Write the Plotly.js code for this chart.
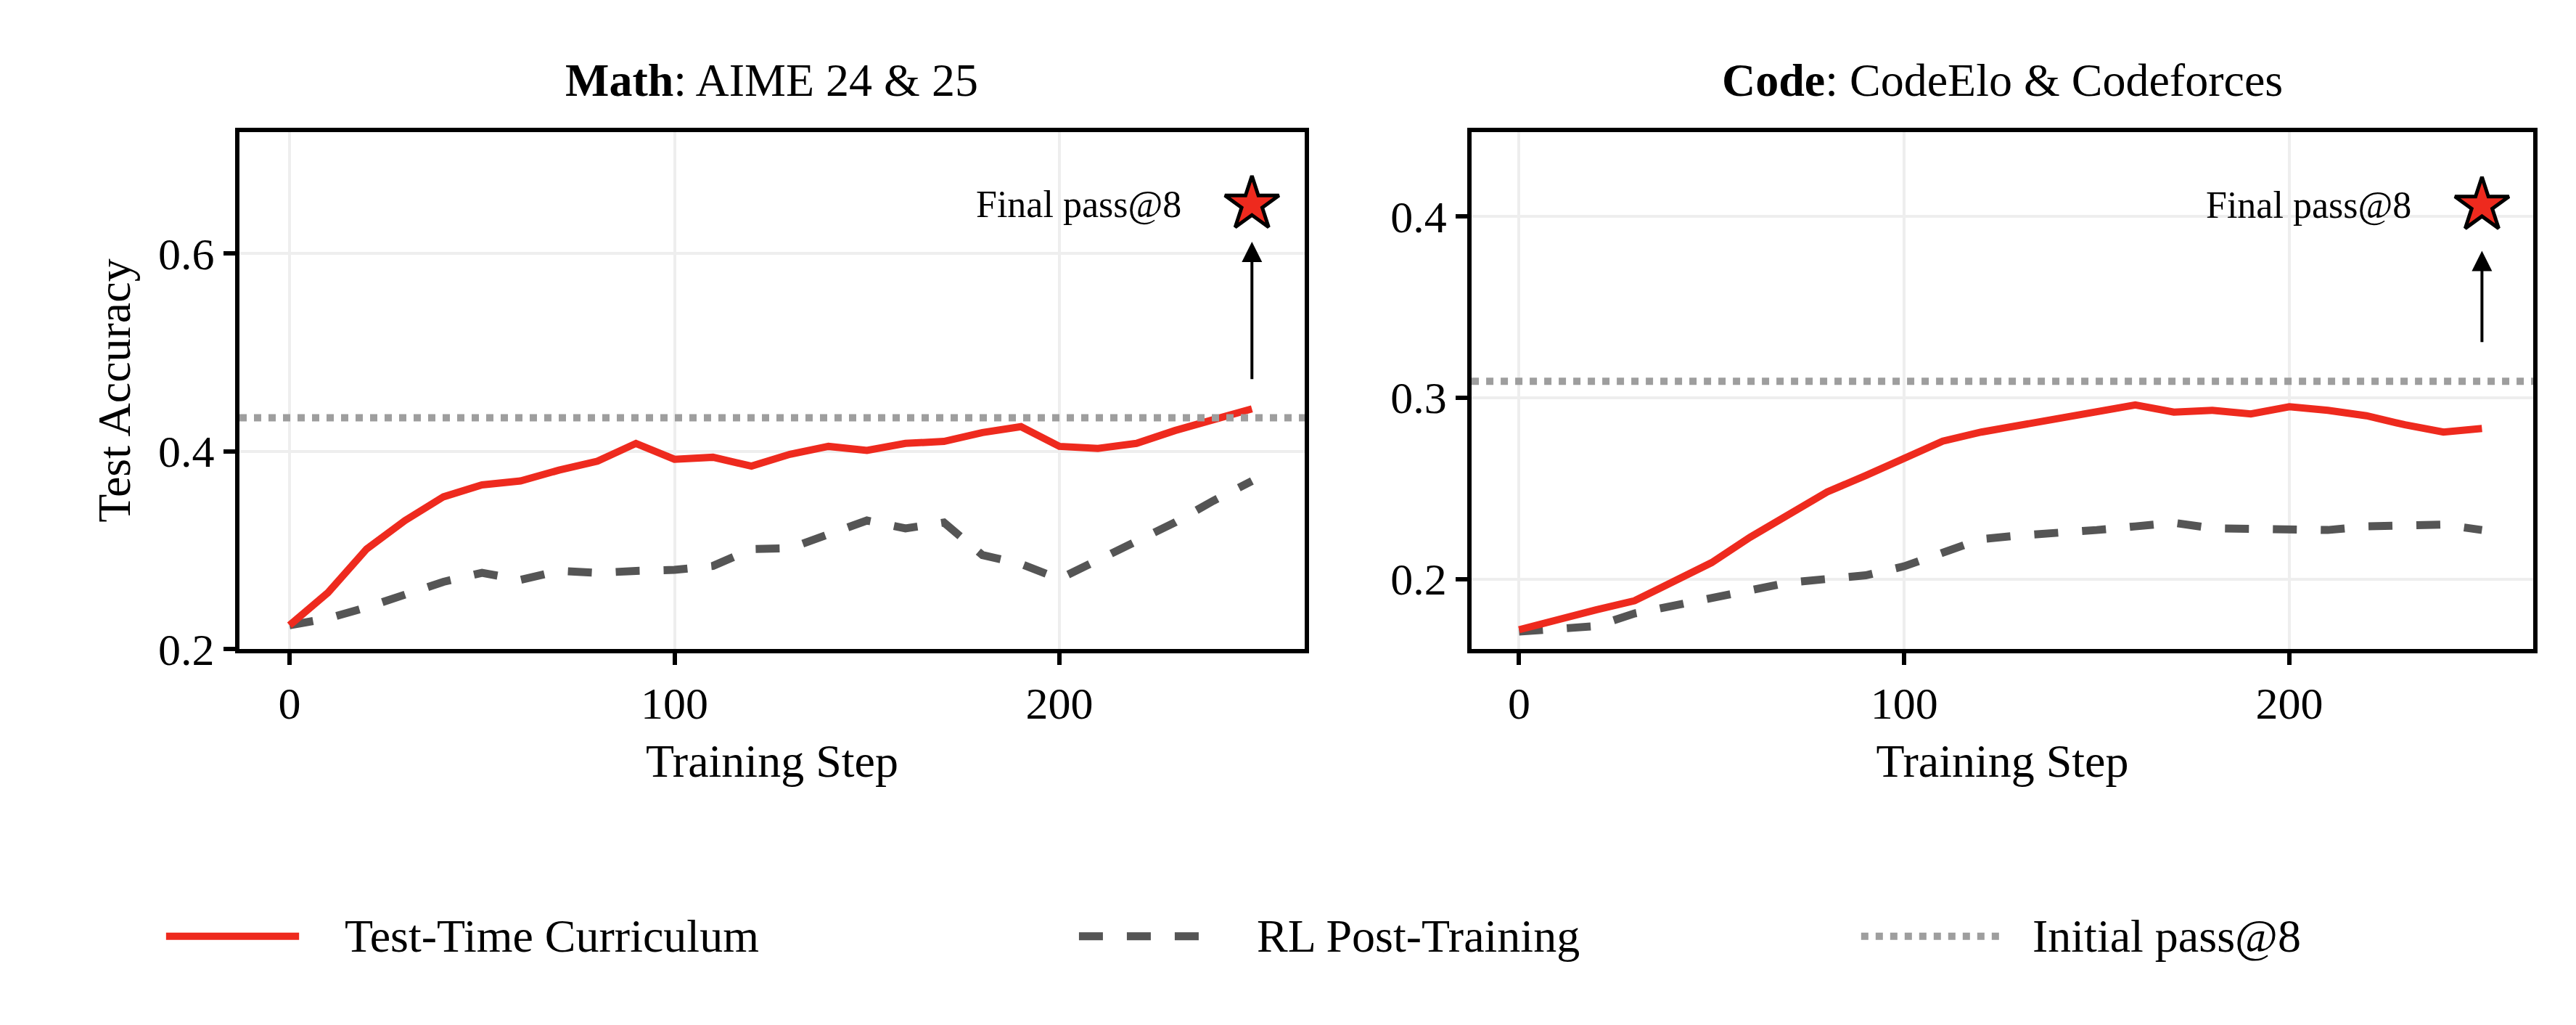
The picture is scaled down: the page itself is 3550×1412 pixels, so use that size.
<!DOCTYPE html>
<html><head><meta charset="utf-8">
<script src="https://cdn.plot.ly/plotly-3.0.1.min.js"></script>
<style>body{margin:0;background:#fff}</style></head>
<body><div id="c" style="width:3550px;height:1412px"></div>
<script>
const steps = [0,10,20,30,40,50,60,70,80,90,100,110,120,130,140,150,160,170,180,190,200,210,220,230,240,250];
const mathTTC = [0.224,0.257,0.301,0.330,0.354,0.366,0.370,0.381,0.390,0.408,0.392,0.394,0.385,0.397,0.405,0.401,0.408,0.410,0.419,0.425,0.405,0.403,0.408,0.421,0.432,0.443];
const mathRL  = [0.224,0.231,0.242,0.255,0.268,0.277,0.270,0.279,0.277,0.279,0.280,0.284,0.301,0.302,0.315,0.330,0.322,0.328,0.295,0.286,0.271,0.290,0.308,0.328,0.350,0.370];
const mathInit = 0.434, mathFinal = 0.650;
const codeTTC = [0.172,0.178,0.183,0.188,0.198,0.209,0.223,0.236,0.248,0.257,0.267,0.276,0.281,0.285,0.289,0.293,0.296,0.292,0.293,0.291,0.295,0.293,0.290,0.285,0.281,0.283];
const codeRL  = [0.171,0.172,0.174,0.181,0.185,0.190,0.194,0.198,0.200,0.202,0.207,0.214,0.222,0.224,0.225,0.227,0.229,0.231,0.228,0.228,0.227,0.227,0.229,0.229,0.230,0.227];
const codeInit = 0.309, codeFinal = 0.406;
const finalStep = 250;
const legendNames = ['Test-Time Curriculum','RL Post-Training','Initial pass@8'];

const RED='#ee2a1e', GRAY='#555555', LGRAY='#9e9e9e';
const F='Liberation Serif';
function tr(x,y,xa,ya,color,dash,w){return {x:x,y:y,xaxis:xa,yaxis:ya,mode:'lines',line:{color:color,width:w,dash:dash},showlegend:false};}
const traces=[
 tr(steps,mathRL,'x','y',GRAY,'dash',11),
 tr(steps,mathTTC,'x','y',RED,'solid',10),
 tr(steps,codeRL,'x2','y2',GRAY,'dash',11),
 tr(steps,codeTTC,'x2','y2',RED,'solid',10),
 {x:[finalStep],y:[mathFinal],xaxis:'x',yaxis:'y',mode:'markers',marker:{symbol:'star',size:56,color:RED,line:{color:'black',width:5}},showlegend:false},
 {x:[finalStep],y:[codeFinal],xaxis:'x2',yaxis:'y2',mode:'markers',marker:{symbol:'star',size:56,color:RED,line:{color:'black',width:5}},showlegend:false}
];
function ax(range,dom,anchor,extra){return Object.assign({range:range,domain:dom,anchor:anchor,showline:true,mirror:true,linecolor:'black',linewidth:6,ticks:'outside',ticklen:16,tickwidth:6,tickcolor:'black',showgrid:true,gridcolor:'#eeeeee',gridwidth:4,zeroline:false,tickfont:{family:F,size:62,color:'black'}},extra||{});}
const TF={family:F,size:64,color:'black'};
const layout={
 width:3550,height:1412,paper_bgcolor:'white',plot_bgcolor:'white',
 margin:{l:330,r:59,t:182,b:518},showlegend:false,
 xaxis:ax([-13,263.7],[0,0.4644],'y',{tickvals:[0,100,200],title:{text:'Training Step',font:TF,standoff:25}}),
 yaxis:ax([0.2,0.723],[0,1],'x',{tickvals:[0.2,0.4,0.6],ticktext:['0.2','0.4','0.6'],title:{text:'Test Accuracy',font:TF,standoff:20}}),
 xaxis2:ax([-12.3,263.3],[0.5372,1],'y2',{tickvals:[0,100,200],title:{text:'Training Step',font:TF,standoff:25}}),
 yaxis2:ax([0.1614,0.4464],[0,1],'x2',{tickvals:[0.2,0.3,0.4],ticktext:['0.2','0.3','0.4']}),
 shapes:[
  {type:'line',xref:'x domain',yref:'y',x0:0,x1:1,y0:mathInit,y1:mathInit,line:{color:LGRAY,width:10,dash:'dot'}},
  {type:'line',xref:'x2 domain',yref:'y2',x0:0,x1:1,y0:codeInit,y1:codeInit,line:{color:LGRAY,width:10,dash:'dot'}},
  {type:'line',xref:'paper',yref:'paper',x0:-0.032,x1:0.026,y0:-0.556,y1:-0.556,line:{color:RED,width:10}},
  {type:'line',xref:'paper',yref:'paper',x0:0.366,x1:0.421,y0:-0.556,y1:-0.556,line:{color:GRAY,width:11,dash:'dash'}},
  {type:'line',xref:'paper',yref:'paper',x0:0.707,x1:0.768,y0:-0.556,y1:-0.556,line:{color:LGRAY,width:10,dash:'dot'}}
 ],
 annotations:[
  {text:'<b>Math</b>: AIME 24 & 25',xref:'paper',yref:'paper',x:0.2322,y:1.10,xanchor:'center',yanchor:'middle',showarrow:false,font:TF},
  {text:'<b>Code</b>: CodeElo & Codeforces',xref:'paper',yref:'paper',x:0.7686,y:1.10,xanchor:'center',yanchor:'middle',showarrow:false,font:TF},
  {text:'Final pass@8',xref:'x',yref:'y',x:232,y:mathFinal,xanchor:'right',yanchor:'middle',showarrow:false,font:{family:F,size:52,color:'black'}},
  {text:'Final pass@8',xref:'x2',yref:'y2',x:232,y:codeFinal,xanchor:'right',yanchor:'middle',showarrow:false,font:{family:F,size:52,color:'black'}},
  {xref:'x',yref:'y',axref:'x',ayref:'y',x:finalStep,y:0.612,ax:finalStep,ay:0.472,showarrow:true,arrowhead:2,arrowsize:1.4,arrowwidth:4,arrowcolor:'black',text:''},
  {xref:'x2',yref:'y2',axref:'x2',ayref:'y2',x:finalStep,y:0.381,ax:finalStep,ay:0.330,showarrow:true,arrowhead:2,arrowsize:1.4,arrowwidth:4,arrowcolor:'black',text:''},
  {text:legendNames[0],xref:'paper',yref:'paper',x:0.0452,y:-0.556,xanchor:'left',yanchor:'middle',showarrow:false,font:TF},
  {text:legendNames[1],xref:'paper',yref:'paper',x:0.443,y:-0.556,xanchor:'left',yanchor:'middle',showarrow:false,font:TF},
  {text:legendNames[2],xref:'paper',yref:'paper',x:0.781,y:-0.556,xanchor:'left',yanchor:'middle',showarrow:false,font:TF}
 ]
};
Plotly.newPlot('c',traces,layout,{staticPlot:true});
</script></body></html>
